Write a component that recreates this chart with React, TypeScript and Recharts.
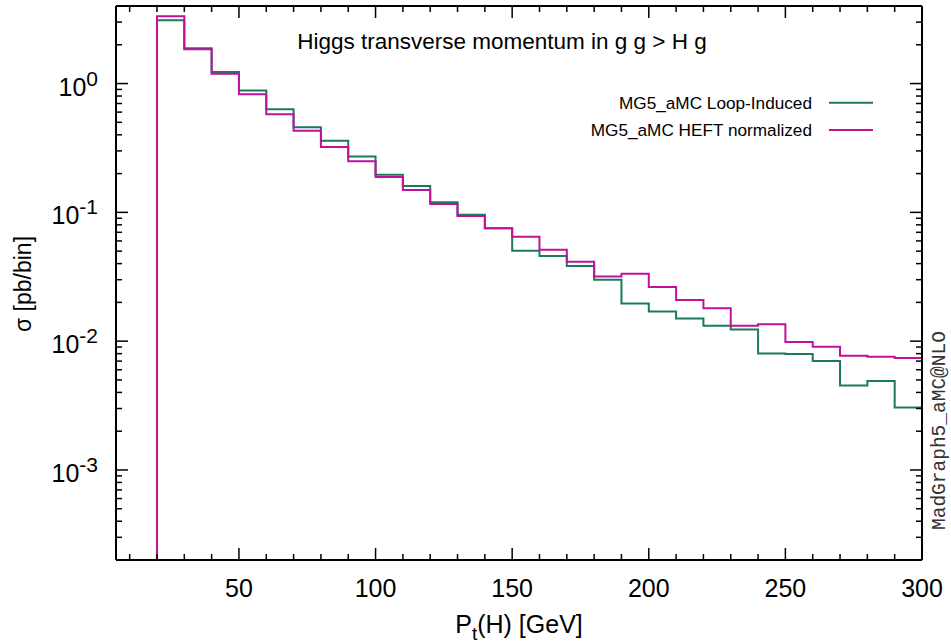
import React from 'react';
import { LineChart, Line, XAxis, YAxis, Legend } from 'recharts';

// Bin lower edges of P_t(H) [GeV] (bin width 10 GeV, last bin ends at 300)
const BIN_LOW = [20, 30, 40, 50, 60, 70, 80, 90, 100, 110, 120, 130, 140, 150, 160, 170, 180, 190, 200, 210, 220, 230, 240, 250, 260, 270, 280, 290];
const BIN_END = 300;

// sigma [pb/bin]
const LOOP_INDUCED = [3.10, 1.88, 1.23, 0.882, 0.631, 0.457, 0.359, 0.271, 0.196, 0.160, 0.120, 0.0960, 0.0751, 0.0504, 0.0458, 0.0383, 0.0300, 0.0196, 0.0170, 0.0150, 0.0132, 0.0123, 0.00802, 0.00794, 0.00700, 0.00453, 0.00490, 0.00305];
const HEFT_NORMALIZED = [3.33, 1.85, 1.19, 0.826, 0.577, 0.431, 0.322, 0.249, 0.188, 0.149, 0.116, 0.0938, 0.0751, 0.0647, 0.0513, 0.0414, 0.0318, 0.0334, 0.0263, 0.0209, 0.0180, 0.0132, 0.0135, 0.00984, 0.00904, 0.00770, 0.00757, 0.00739];

const X_DOMAIN: [number, number] = [5, 300];
const Y_DOMAIN: [number, number] = [2e-4, 4];
const X_TICKS = [10, 20, 30, 40, 50, 60, 70, 80, 90, 100, 110, 120, 130, 140, 150, 160, 170, 180, 190, 200, 210, 220, 230, 240, 250, 260, 270, 280, 290, 300];
const X_MAJOR = [50, 100, 150, 200, 250, 300];
const Y_DECADES = [-4, -3, -2, -1, 0];
const Y_MAJOR_EXP = [-3, -2, -1, 0];

const SERIES_NAMES = ['MG5_aMC Loop-Induced', 'MG5_aMC HEFT normalized'];
const GREEN = '#1a7a5b';
const MAGENTA = '#c0119c';

const FONT = '"Liberation Sans", Arial, Helvetica, sans-serif';

const Y_TICKS: number[] = [];
Y_DECADES.forEach((d) => {
  for (let k = 1; k <= 9; k++) {
    const v = k * Math.pow(10, d);
    if (v >= Y_DOMAIN[0] * 0.999 && v <= Y_DOMAIN[1] * 1.001) Y_TICKS.push(Number(v.toPrecision(3)));
  }
});

// histogram table: baseline point at the first edge, one row per bin, closing edge
const data: any[] = [{ x: BIN_LOW[0], g: Y_DOMAIN[0], m: Y_DOMAIN[0] }];
BIN_LOW.forEach((lo, i) => data.push({ x: lo, g: LOOP_INDUCED[i], m: HEFT_NORMALIZED[i] }));
data.push({ x: BIN_END, g: LOOP_INDUCED[LOOP_INDUCED.length - 1], m: HEFT_NORMALIZED[HEFT_NORMALIZED.length - 1] });

const isMajorY = (v: number) => {
  const e = Math.log10(v);
  return Math.abs(e - Math.round(e)) < 1e-6 && Y_MAJOR_EXP.includes(Math.round(e));
};

const BottomTick = (p: any) => {
  const { x, y, payload } = p;
  const major = X_MAJOR.includes(payload.value);
  return (
    <g>
      <line x1={x} x2={x} y1={y} y2={y - (major ? 12 : 6)} stroke="#000" strokeWidth={1.5} />
      {major && (
        <text x={x} y={y + 37} textAnchor="middle" fontSize={25} fontFamily={FONT} fill="#000">
          {payload.value}
        </text>
      )}
    </g>
  );
};

const TopTick = (p: any) => {
  const { x, y, payload } = p;
  const major = X_MAJOR.includes(payload.value);
  return <line x1={x} x2={x} y1={y} y2={y + (major ? 12 : 6)} stroke="#000" strokeWidth={1.5} />;
};

const LeftTick = (p: any) => {
  const { x, y, payload } = p;
  const major = isMajorY(payload.value);
  const e = Math.round(Math.log10(payload.value));
  return (
    <g>
      <line x1={x} x2={x + (major ? 12 : 6)} y1={y} y2={y} stroke="#000" strokeWidth={1.5} />
      {major && (
        <text x={x - 18} y={y + 12} textAnchor="end" fontSize={25} fontFamily={FONT} fill="#000">
          10
          <tspan dy={-10} fontSize={21}>{String(e)}</tspan>
        </text>
      )}
    </g>
  );
};

const RightTick = (p: any) => {
  const { x, y, payload } = p;
  const major = isMajorY(payload.value);
  return <line x1={x} x2={x - (major ? 12 : 6)} y1={y} y2={y} stroke="#000" strokeWidth={1.5} />;
};

const LegendBox = (props: any) => {
  const payload = [...(props.payload || [])].sort(
    (a: any, b: any) => SERIES_NAMES.indexOf(a.value) - SERIES_NAMES.indexOf(b.value)
  );
  return (
    <svg width={330} height={60} style={{ display: 'block' }}>
      {payload.map((entry: any, i: number) => (
        <g key={i}>
          <text x={252} y={19 + i * 27} textAnchor="end" fontSize={17.2} fontFamily={FONT} fill="#000">
            {entry.value}
          </text>
          <line x1={269} x2={313} y1={12.7 + i * 27.3} y2={12.7 + i * 27.3} stroke={entry.color} strokeWidth={2} />
        </g>
      ))}
    </svg>
  );
};

export default function App() {
  return (
    <div style={{ position: 'absolute', left: 0, top: 0, width: 951, height: 644, background: '#fff' }}>
      <LineChart width={951} height={644} data={data} margin={{ top: 5, right: 28, bottom: 0, left: 0 }}>
        <XAxis
          dataKey="x"
          type="number"
          domain={X_DOMAIN}
          allowDataOverflow
          ticks={X_TICKS}
          interval={0}
          height={84}
          tickSize={0}
          tickMargin={0}
          tickLine={false}
          tick={BottomTick}
          axisLine={{ stroke: '#000', strokeWidth: 2 }}
        />
        <XAxis
          xAxisId="top"
          orientation="top"
          dataKey="x"
          type="number"
          domain={X_DOMAIN}
          allowDataOverflow
          ticks={X_TICKS}
          interval={0}
          height={1}
          tickSize={0}
          tickMargin={0}
          tickLine={false}
          tick={TopTick}
          axisLine={{ stroke: '#000', strokeWidth: 2 }}
        />
        <YAxis
          type="number"
          scale="log"
          domain={Y_DOMAIN}
          allowDataOverflow
          ticks={Y_TICKS}
          interval={0}
          width={116}
          tickSize={0}
          tickMargin={0}
          tickLine={false}
          tick={LeftTick}
          axisLine={{ stroke: '#000', strokeWidth: 2 }}
        />
        <YAxis
          yAxisId="right"
          orientation="right"
          type="number"
          scale="log"
          domain={Y_DOMAIN}
          allowDataOverflow
          ticks={Y_TICKS}
          interval={0}
          width={1}
          tickSize={0}
          tickMargin={0}
          tickLine={false}
          tick={RightTick}
          axisLine={{ stroke: '#000', strokeWidth: 2 }}
        />
        <Line
          type="stepAfter"
          dataKey="g"
          name={SERIES_NAMES[0]}
          stroke={GREEN}
          strokeWidth={2}
          dot={false}
          activeDot={false}
          isAnimationActive={false}
        />
        <Line
          type="stepAfter"
          dataKey="m"
          name={SERIES_NAMES[1]}
          stroke={MAGENTA}
          strokeWidth={2}
          dot={false}
          activeDot={false}
          isAnimationActive={false}
        />
        <Legend
          layout="vertical"
          align="center"
          verticalAlign="middle"
          content={LegendBox}
          wrapperStyle={{ position: 'absolute', left: 560, top: 90, width: 330, height: 60 }}
        />
        <text x={502} y={49} textAnchor="middle" fontSize={22.5} fontFamily={FONT} fill="#000">
          Higgs transverse momentum in g g &gt; H g
        </text>
        <text x={519} y={633} textAnchor="middle" fontSize={25} fontFamily={FONT} fill="#000">
          P<tspan dy={7} fontSize={19}>t</tspan>
          <tspan dy={-7}>(H) [GeV]</tspan>
        </text>
        <text
          x={0}
          y={0}
          transform="translate(31,284) rotate(-90)"
          textAnchor="middle"
          fontSize={23}
          fontFamily={FONT}
          fill="#000"
        >
          σ [pb/bin]
        </text>
        <text
          x={0}
          y={0}
          transform="translate(945,530) rotate(-90)"
          textAnchor="start"
          fontSize={19.5}
          fontWeight={300}
          fontFamily='"Liberation Mono", "Courier New", monospace'
          fill="#333"
        >
          MadGraph5_aMC@NLO
        </text>
      </LineChart>
    </div>
  );
}
